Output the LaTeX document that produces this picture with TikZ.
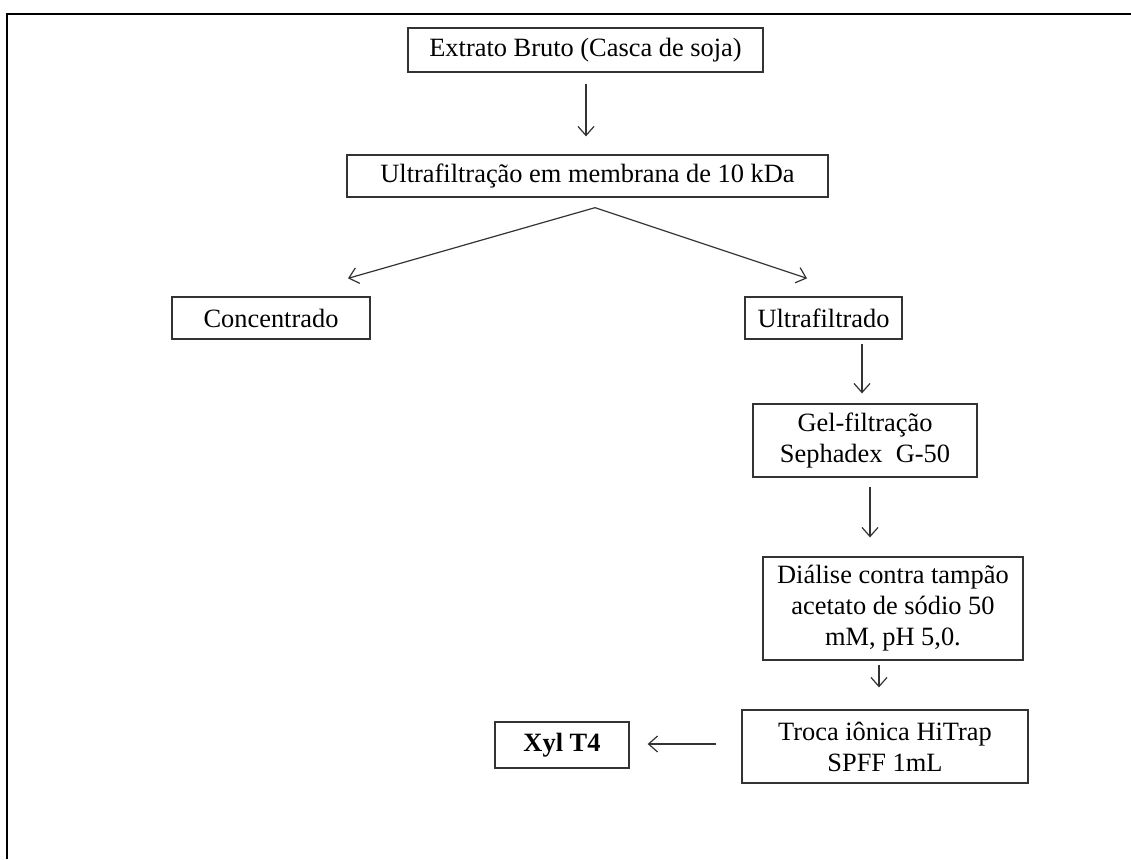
\documentclass[tikz,border=0pt]{standalone}
\usepackage{fontspec}
\setmainfont{Liberation Serif}
\usetikzlibrary{arrows.meta,calc}

\begin{document}
\begin{tikzpicture}[x=0.5pt,y=-0.5pt,
  caixa/.style={draw=black!80,line width=0.65pt,inner sep=0pt,align=center,
    font=\fontsize{13.2}{15.5}\selectfont},
  seta/.style={draw=black!80,line width=0.6pt,-{Straight Barb[length=4.5pt,width=8pt]}}]

\useasboundingbox (0,0) rectangle (1131,859);

% moldura
\draw[line width=1.3pt] (7,859) -- (7,14) -- (1131,14);

% caixas
\node[caixa,minimum width=177.5pt,minimum height=22pt] (ext) at (585.5,50) {Extrato Bruto (Casca de soja)};
\node[caixa,minimum width=240.5pt,minimum height=21pt] (ultra) at (587.5,176) {Ultrafiltração em membrana de 10 kDa};
\node[caixa,minimum width=99pt,minimum height=21pt] (conc) at (271,318) {Concentrado};
\node[caixa,minimum width=78.5pt,minimum height=21pt] (ufilt) at (823.5,318) {Ultrafiltrado};
\node[caixa,minimum width=112pt,minimum height=36.5pt] (gel) at (865,440.5) {Gel-filtração\\Sephadex\ \ G-50};
\node[caixa,minimum width=130pt,minimum height=51.5pt] (dial) at (893,608.5) {Diálise contra tampão\\acetato de sódio 50\\mM, pH 5,0.};
\node[caixa,minimum width=143pt,minimum height=36.5pt] (troca) at (885,746.5) {Troca iônica HiTrap\\SPFF 1mL};
\node[caixa,minimum width=67pt,minimum height=23pt,font=\fontsize{13.2}{15.5}\selectfont\bfseries] (xyl) at (562,745) {Xyl T4};

% setas
\draw[seta] ($(ext.south)+(0.5,11)$) -- ($(ultra.north)+(-1.5,-18)$);
\coordinate (apex) at ($(ultra.south)+(7.5,10)$);
\draw[seta] (apex) -- ($(conc.north)+(77,-18)$);
\draw[seta] (apex) -- ($(ufilt.north)+(-16.5,-18)$);
\draw[seta] ($(ufilt.south)+(38.5,4)$) -- ($(gel.north)+(-3,-10)$);
\draw[seta] ($(gel.south)+(5,9)$) -- ($(dial.north)+(-23,-19)$);
\draw[seta] ($(dial.south)+(-14,4)$) -- ($(troca.north)+(-6,-22)$);
\draw[seta] ($(troca.west)+(-25,-2.5)$) -- ($(xyl.east)+(18,-1)$);

\end{tikzpicture}
\end{document}
